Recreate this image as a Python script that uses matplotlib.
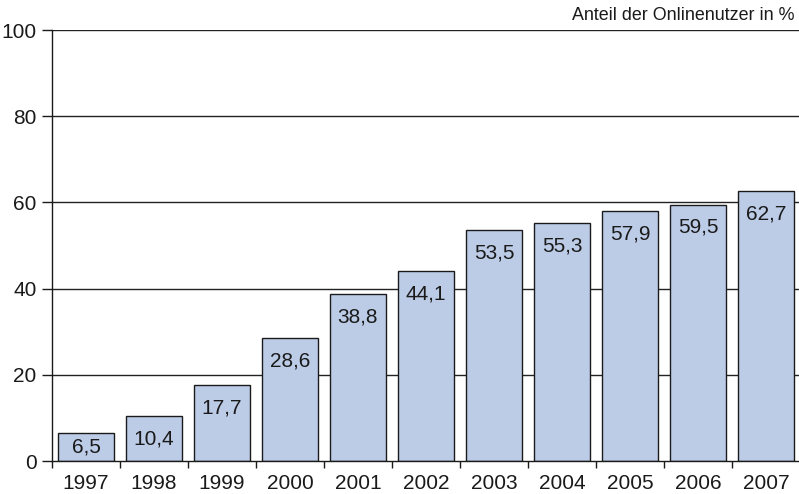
import matplotlib
matplotlib.use("Agg")
import matplotlib.pyplot as plt
import numpy as np

years = ["1997", "1998", "1999", "2000", "2001", "2002", "2003", "2004", "2005", "2006", "2007"]
shares = [6.5, 10.4, 17.7, 28.6, 38.8, 44.1, 53.5, 55.3, 57.9, 59.5, 62.7]
y_ticks = [0, 20, 40, 60, 80, 100]
title_text = "Anteil der Onlinenutzer in %"

plt.rcParams["font.family"] = ["Liberation Sans", "DejaVu Sans"]

fig = plt.figure(figsize=(7.99, 4.94), dpi=100)
ax = fig.add_axes([52 / 799, 1 - 461 / 494, (800 - 52) / 799, (461 - 30) / 494])

x = np.arange(len(years))
ax.set_axisbelow(True)
for yv in y_ticks[1:]:
    ax.axhline(yv, color="#222222", lw=1.0, zorder=0)

ax.bar(x, shares, width=0.83, color="#bccce6", edgecolor="#1a1a1a", lw=1.0, zorder=2)

# value labels sit just below the bar top, or mid-bar for very short bars
label_drop = 5.3
for xi, v in zip(x, shares):
    ypos = max(v - label_drop, v / 2)
    ax.text(xi, ypos, f"{v:.1f}".replace(".", ","), ha="center", va="center",
            fontsize=15, color="#1a1a1a", zorder=3)

ax.set_xlim(-0.5, len(years) - 0.5)
ax.set_ylim(0, 100)
ax.set_yticks(y_ticks)
ax.set_yticklabels([str(t) for t in y_ticks], fontsize=15, color="#1a1a1a")
ax.set_xticks(x)
ax.set_xticklabels(years, fontsize=15, color="#1a1a1a")
ax.set_xticks(np.arange(len(years) + 1) - 0.5, minor=True)
ax.tick_params(axis="x", which="major", length=0, pad=9)
ax.tick_params(axis="x", which="minor", length=5, width=1.0, color="#1a1a1a")
ax.tick_params(axis="y", length=7, width=1.0, color="#1a1a1a", pad=4)

for s in ["top", "right"]:
    ax.spines[s].set_visible(False)
for s in ["left", "bottom"]:
    ax.spines[s].set_color("#1a1a1a")
    ax.spines[s].set_linewidth(1.0)

fig.text(795 / 799, 1 - 16 / 494, title_text, ha="right", va="center", fontsize=12.9, color="#1a1a1a")

fig.savefig("out.png", dpi=100)
